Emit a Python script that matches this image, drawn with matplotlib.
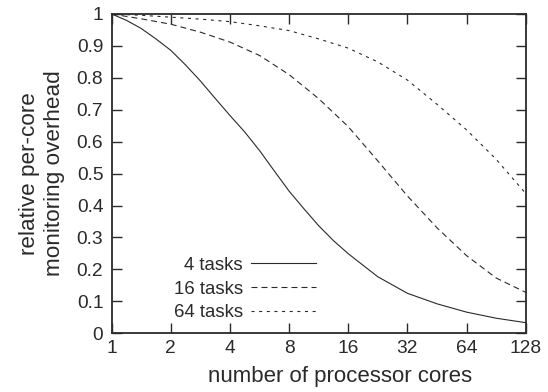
import numpy as np
import matplotlib
matplotlib.use("Agg")
import matplotlib.pyplot as plt
from matplotlib.ticker import FixedLocator, FixedFormatter

# datos
nucleos_4 = [1, 1.19, 1.41, 1.68, 2, 2.38, 2.83, 3.36, 4, 4.76, 5.66, 6.73, 8, 9.51, 11.3, 13.45,
             16, 22.6, 32, 45.3, 64, 90.5, 128]
tareas_4 = [1.0, 0.98, 0.955, 0.922, 0.886, 0.84, 0.79, 0.736, 0.682, 0.63, 0.572, 0.508, 0.445,
            0.39, 0.337, 0.29, 0.249, 0.177, 0.125, 0.092, 0.066, 0.047, 0.033]
nucleos = [1, 1.41, 2, 2.83, 4, 5.66, 8, 11.3, 16, 22.6, 32, 45.3, 64, 90.5, 128]
tareas_16 = [1.0, 0.985, 0.968, 0.943, 0.912, 0.87, 0.81, 0.735, 0.647, 0.54, 0.43, 0.33, 0.243, 0.173, 0.128]
tareas_64 = [1.0, 0.996, 0.99, 0.984, 0.976, 0.963, 0.948, 0.922, 0.893, 0.85, 0.793, 0.717, 0.637, 0.545, 0.438]

etiquetas_x = ["1", "2", "4", "8", "16", "32", "64", "128"]
valores_x = [1, 2, 4, 8, 16, 32, 64, 128]
valores_y = [0, 0.1, 0.2, 0.3, 0.4, 0.5, 0.6, 0.7, 0.8, 0.9, 1]
etiquetas_y = ["0", "0.1", "0.2", "0.3", "0.4", "0.5", "0.6", "0.7", "0.8", "0.9", "1"]

plt.rcParams["font.family"] = ["Liberation Sans", "DejaVu Sans"]
plt.rcParams["font.size"] = 13.8
plt.rcParams["text.color"] = "#2a2a2a"
plt.rcParams["lines.scale_dashes"] = False

color = "#2a2a2a"
fig = plt.figure(figsize=(5.48, 3.92), dpi=100)
ax = fig.add_axes([0.2038, 0.150, 0.7555, 0.8143])

ax.plot(nucleos_4, tareas_4, color=color, lw=0.8, label="4 tasks")
ax.plot(nucleos, tareas_16, color=color, lw=0.8, linestyle=(0, (4.3, 2.9)), label="16 tasks")
ax.plot(nucleos, tareas_64, color=color, lw=0.8, linestyle=(0, (2.2, 3.3)), label="64 tasks")

ax.set_xscale("log", base=2)
ax.set_xlim(1, 128)
ax.set_ylim(0, 1)
ax.xaxis.set_major_locator(FixedLocator(valores_x))
ax.xaxis.set_major_formatter(FixedFormatter(etiquetas_x))
ax.xaxis.set_minor_locator(FixedLocator([]))
ax.yaxis.set_major_locator(FixedLocator(valores_y))
ax.yaxis.set_major_formatter(FixedFormatter(etiquetas_y))

ax.tick_params(direction="in", length=7.2, width=1.0, color=color, labelcolor=color,
               top=True, right=True, labelsize=13.8)
ax.tick_params(axis="x", pad=5)
ax.tick_params(axis="y", pad=6)
for s in ax.spines.values():
    s.set_linewidth(1.3)
    s.set_color(color)

ax.set_xlabel("number of processor cores", color=color, fontsize=16)
ax.set_ylabel("relative per-core\nmonitoring overhead", color=color, fontsize=16.2, linespacing=1.25)
ax.xaxis.set_label_coords(0.551, -0.103)
ax.yaxis.set_label_coords(-0.113, 0.5)

ax.legend(loc="lower left", bbox_to_anchor=(0.15, 0.038), frameon=False, markerfirst=False,
          handlelength=3.5, handletextpad=0.45, labelspacing=0.35, borderpad=0,
          borderaxespad=0, fontsize=13.4)

fig.savefig("out.png", dpi=100)
